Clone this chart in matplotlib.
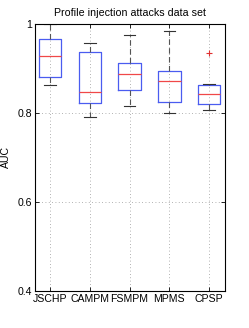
import matplotlib
matplotlib.use('Agg')
import matplotlib.pyplot as plt

plt.rcParams['font.family'] = ['Liberation Sans', 'DejaVu Sans']

methods = ['JSCHP', 'CAMPM', 'FSMPM', 'MPMS', 'CPSP']
whislo = [0.864, 0.792, 0.815, 0.800, 0.807]
q1 = [0.880, 0.822, 0.852, 0.825, 0.820]
med = [0.927, 0.848, 0.888, 0.872, 0.843]
q3 = [0.966, 0.936, 0.912, 0.895, 0.862]
whishi = [1.000, 0.957, 0.976, 0.984, 0.865]
fliers = [[], [], [], [], [0.934]]

stats = []
for i in range(len(methods)):
    stats.append(dict(label=methods[i], whislo=whislo[i], q1=q1[i], med=med[i],
                      q3=q3[i], whishi=whishi[i], fliers=fliers[i]))

fig = plt.figure(figsize=(2.49, 3.28), dpi=100)
ax = fig.add_axes([35/249, 1-291/328, 190/249, 267/328])

ax.bxp(stats, widths=0.57,
       boxprops=dict(color='#4a5cf0', linewidth=0.9),
       medianprops=dict(color='#f04848', linewidth=0.9),
       whiskerprops=dict(color='#555555', linewidth=0.8, linestyle=(0, (5, 3))),
       capprops=dict(color='#333333', linewidth=0.8),
       flierprops=dict(marker='+', markeredgecolor='#e03030', markersize=5, markeredgewidth=0.8))

ax.set_xlim(0.62, 5.4)
ax.set_ylim(0.4, 1.0)
ax.set_yticks([0.4, 0.6, 0.8, 1.0])
ax.set_yticklabels(['0.4', '0.6', '0.8', '1'])
ax.grid(True, linestyle=(0, (1, 3)), color='#999999', linewidth=0.6)
ax.set_axisbelow(True)
ax.tick_params(direction='in', labelsize=7.6, length=3, width=0.6, pad=2, top=True, right=True)
for s in ax.spines.values():
    s.set_linewidth(0.8)
ax.set_ylabel('AUC', fontsize=7.6)
ax.yaxis.set_label_coords(-0.125, 0.5)
ax.set_title('Profile injection attacks data set', fontsize=7.7, pad=6)

fig.savefig('out.png', dpi=100)
